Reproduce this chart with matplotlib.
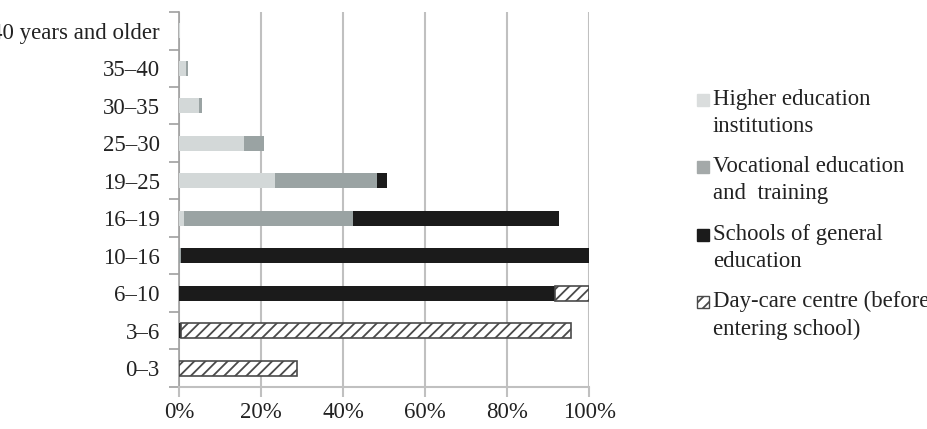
import matplotlib.pyplot as plt
from matplotlib.patches import Rectangle
import numpy as np

plt.rcParams['font.family'] = ['Liberation Serif', 'DejaVu Serif']
plt.rcParams['hatch.linewidth'] = 1.3

ages = ['0–3', '3–6', '6–10', '10–16', '16–19', '19–25', '25–30', '30–35', '35–40',
        '40 years and older']
# shares in %, bottom row first
daycare = [28.7, 95.0, 8.3, 0, 0, 0, 0, 0, 0, 0]
schools = [0, 0.5, 91.7, 99.5, 50.0, 2.6, 0, 0, 0, 0]
vocational = [0, 0, 0, 0.5, 41.2, 24.8, 4.9, 0.8, 0.5, 0]
higher = [0, 0, 0, 0, 1.3, 23.4, 15.7, 4.9, 1.6, 0.2]

labels = ['Higher education\ninstitutions', 'Vocational education\nand  training',
          'Schools of general\neducation', 'Day-care centre (before\nentering school)']

fig = plt.figure(figsize=(9.28, 4.29), dpi=100)
ax = fig.add_axes([0.193, 0.098, 0.442, 0.874])

y = np.arange(len(ages))
h = 0.39
c_high, c_voc, c_sch = '#d3d8d8', '#9aa3a3', '#1b1b1b'

left = np.zeros(len(ages))
ax.barh(y, higher, h, left=left, color=c_high, zorder=3)
left += higher
ax.barh(y, vocational, h, left=left, color=c_voc, zorder=3)
left += vocational
ax.barh(y, schools, h, left=left, color=c_sch, zorder=3)
left += schools
dc = np.array(daycare)
m = dc > 0
ax.barh(y[m], dc[m], h, left=left[m], color='white', edgecolor='#4a4a4a',
        hatch='///', linewidth=1.2, zorder=3)

ax.set_xlim(0, 100)
ax.set_ylim(-0.5, len(ages) - 0.5)
ax.set_xticks([0, 20, 40, 60, 80, 100])
ax.set_xticklabels(['0%', '20%', '40%', '60%', '80%', '100%'])
ax.set_yticks(y)
ax.set_yticklabels(ages)
ax.set_yticks(np.arange(len(ages) + 1) - 0.5, minor=True)
ax.tick_params(axis='y', which='major', length=0, pad=14, labelsize=16.5, labelcolor='#222')
ax.tick_params(axis='y', which='minor', length=7, color='#a0a0a0', width=1.2)
ax.tick_params(axis='x', length=7, color='#c0c0c0', width=1.5, pad=4,
               labelsize=16.5, labelcolor='#222')
ax.grid(axis='x', color='#c0c0c0', linewidth=1.5, zorder=0)
for s in ['top', 'right']:
    ax.spines[s].set_visible(False)
ax.spines['left'].set_color('#a0a0a0')
ax.spines['left'].set_linewidth(1.2)
ax.spines['bottom'].set_color('#c0c0c0')
ax.spines['bottom'].set_linewidth(1.5)

# legend drawn by hand so the marker sits on the first text line
W, H = 928, 429
leg_y = [100, 167, 235, 302]
faces = ['#dadddd', '#a4a9a9', c_sch, 'white']
for i, (lab, fc, ly) in enumerate(zip(labels, faces, leg_y)):
    r = Rectangle((697 / W, 1 - (ly + 6) / H), 12 / W, 12 / H, transform=fig.transFigure,
                  facecolor=fc, edgecolor='#4a4a4a' if i == 3 else fc,
                  hatch='///' if i == 3 else None, linewidth=1.0)
    fig.patches.append(r)
    fig.text(713 / W, 1 - (ly - 11) / H, lab, fontsize=16.4, color='#222',
             va='top', ha='left', linespacing=1.38)

fig.savefig('out.png', dpi=100)
